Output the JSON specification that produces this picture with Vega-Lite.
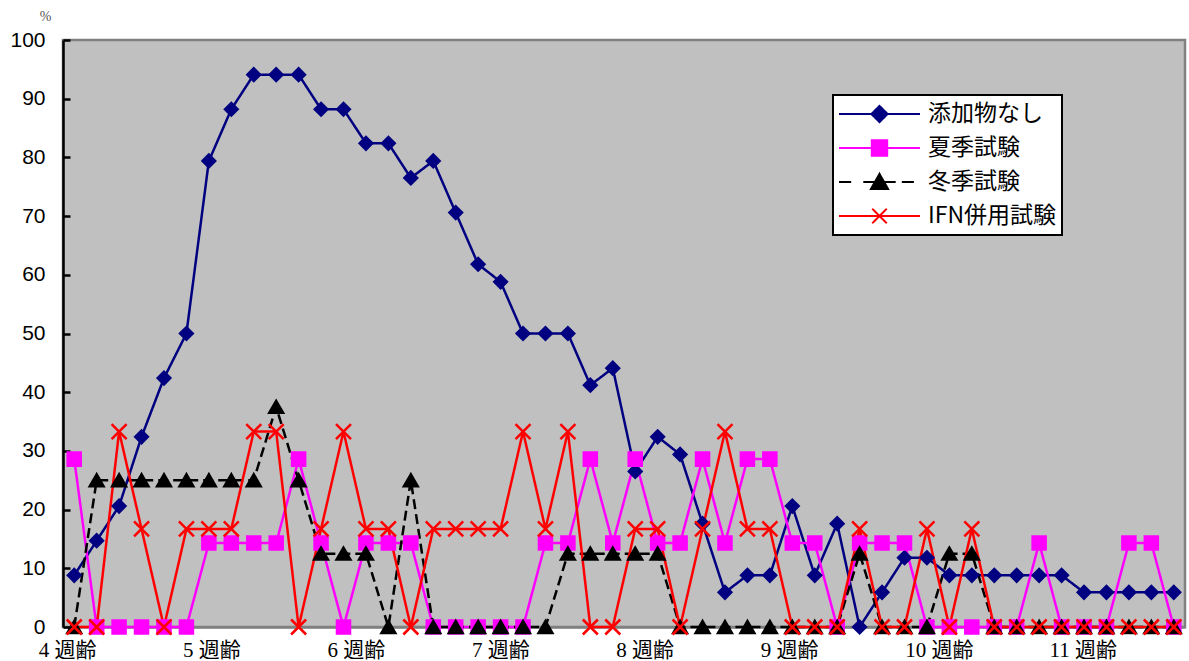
{
  "$schema": "https://vega.github.io/schema/vega-lite/v6.json",
  "width": 1122,
  "height": 587,
  "autosize": "none",
  "padding": {"left": 63, "top": 40, "right": 4, "bottom": 34},
  "background": "white",
  "config": {
    "view": {"fill": "#C0C0C0", "stroke": "#808080", "strokeWidth": 2.5}
  },
  "data": {
    "values": [
      {"n": 0, "添加物なし": 8.8, "夏季試験": 28.6, "冬季試験": 0, "IFN併用試験": 0},
      {"n": 1, "添加物なし": 14.7, "夏季試験": 0, "冬季試験": 25, "IFN併用試験": 0},
      {"n": 2, "添加物なし": 20.6, "夏季試験": 0, "冬季試験": 25, "IFN併用試験": 33.3},
      {"n": 3, "添加物なし": 32.4, "夏季試験": 0, "冬季試験": 25, "IFN併用試験": 16.7},
      {"n": 4, "添加物なし": 42.4, "夏季試験": 0, "冬季試験": 25, "IFN併用試験": 0},
      {"n": 5, "添加物なし": 50.0, "夏季試験": 0, "冬季試験": 25, "IFN併用試験": 16.7},
      {"n": 6, "添加物なし": 79.4, "夏季試験": 14.3, "冬季試験": 25, "IFN併用試験": 16.7},
      {"n": 7, "添加物なし": 88.2, "夏季試験": 14.3, "冬季試験": 25, "IFN併用試験": 16.7},
      {"n": 8, "添加物なし": 94.1, "夏季試験": 14.3, "冬季試験": 25, "IFN併用試験": 33.3},
      {"n": 9, "添加物なし": 94.1, "夏季試験": 14.3, "冬季試験": 37.5, "IFN併用試験": 33.3},
      {"n": 10, "添加物なし": 94.1, "夏季試験": 28.6, "冬季試験": 25, "IFN併用試験": 0},
      {"n": 11, "添加物なし": 88.2, "夏季試験": 14.3, "冬季試験": 12.5, "IFN併用試験": 16.7},
      {"n": 12, "添加物なし": 88.2, "夏季試験": 0, "冬季試験": 12.5, "IFN併用試験": 33.3},
      {"n": 13, "添加物なし": 82.4, "夏季試験": 14.3, "冬季試験": 12.5, "IFN併用試験": 16.7},
      {"n": 14, "添加物なし": 82.4, "夏季試験": 14.3, "冬季試験": 0, "IFN併用試験": 16.7},
      {"n": 15, "添加物なし": 76.5, "夏季試験": 14.3, "冬季試験": 25, "IFN併用試験": 0},
      {"n": 16, "添加物なし": 79.4, "夏季試験": 0, "冬季試験": 0, "IFN併用試験": 16.7},
      {"n": 17, "添加物なし": 70.6, "夏季試験": 0, "冬季試験": 0, "IFN併用試験": 16.7},
      {"n": 18, "添加物なし": 61.8, "夏季試験": 0, "冬季試験": 0, "IFN併用試験": 16.7},
      {"n": 19, "添加物なし": 58.8, "夏季試験": 0, "冬季試験": 0, "IFN併用試験": 16.7},
      {"n": 20, "添加物なし": 50.0, "夏季試験": 0, "冬季試験": 0, "IFN併用試験": 33.3},
      {"n": 21, "添加物なし": 50.0, "夏季試験": 14.3, "冬季試験": 0, "IFN併用試験": 16.7},
      {"n": 22, "添加物なし": 50.0, "夏季試験": 14.3, "冬季試験": 12.5, "IFN併用試験": 33.3},
      {"n": 23, "添加物なし": 41.2, "夏季試験": 28.6, "冬季試験": 12.5, "IFN併用試験": 0},
      {"n": 24, "添加物なし": 44.1, "夏季試験": 14.3, "冬季試験": 12.5, "IFN併用試験": 0},
      {"n": 25, "添加物なし": 26.5, "夏季試験": 28.6, "冬季試験": 12.5, "IFN併用試験": 16.7},
      {"n": 26, "添加物なし": 32.4, "夏季試験": 14.3, "冬季試験": 12.5, "IFN併用試験": 16.7},
      {"n": 27, "添加物なし": 29.4, "夏季試験": 14.3, "冬季試験": 0, "IFN併用試験": 0},
      {"n": 28, "添加物なし": 17.6, "夏季試験": 28.6, "冬季試験": 0, "IFN併用試験": 16.7},
      {"n": 29, "添加物なし": 5.9, "夏季試験": 14.3, "冬季試験": 0, "IFN併用試験": 33.3},
      {"n": 30, "添加物なし": 8.8, "夏季試験": 28.6, "冬季試験": 0, "IFN併用試験": 16.7},
      {"n": 31, "添加物なし": 8.8, "夏季試験": 28.6, "冬季試験": 0, "IFN併用試験": 16.7},
      {"n": 32, "添加物なし": 20.6, "夏季試験": 14.3, "冬季試験": 0, "IFN併用試験": 0},
      {"n": 33, "添加物なし": 8.8, "夏季試験": 14.3, "冬季試験": 0, "IFN併用試験": 0},
      {"n": 34, "添加物なし": 17.6, "夏季試験": 0, "冬季試験": 0, "IFN併用試験": 0},
      {"n": 35, "添加物なし": 0, "夏季試験": 14.3, "冬季試験": 12.5, "IFN併用試験": 16.7},
      {"n": 36, "添加物なし": 5.9, "夏季試験": 14.3, "冬季試験": 0, "IFN併用試験": 0},
      {"n": 37, "添加物なし": 11.8, "夏季試験": 14.3, "冬季試験": 0, "IFN併用試験": 0},
      {"n": 38, "添加物なし": 11.8, "夏季試験": 0, "冬季試験": 0, "IFN併用試験": 16.7},
      {"n": 39, "添加物なし": 8.8, "夏季試験": 0, "冬季試験": 12.5, "IFN併用試験": 0},
      {"n": 40, "添加物なし": 8.8, "夏季試験": 0, "冬季試験": 12.5, "IFN併用試験": 16.7},
      {"n": 41, "添加物なし": 8.8, "夏季試験": 0, "冬季試験": 0, "IFN併用試験": 0},
      {"n": 42, "添加物なし": 8.8, "夏季試験": 0, "冬季試験": 0, "IFN併用試験": 0},
      {"n": 43, "添加物なし": 8.8, "夏季試験": 14.3, "冬季試験": 0, "IFN併用試験": 0},
      {"n": 44, "添加物なし": 8.8, "夏季試験": 0, "冬季試験": 0, "IFN併用試験": 0},
      {"n": 45, "添加物なし": 5.9, "夏季試験": 0, "冬季試験": 0, "IFN併用試験": 0},
      {"n": 46, "添加物なし": 5.9, "夏季試験": 0, "冬季試験": 0, "IFN併用試験": 0},
      {"n": 47, "添加物なし": 5.9, "夏季試験": 14.3, "冬季試験": 0, "IFN併用試験": 0},
      {"n": 48, "添加物なし": 5.9, "夏季試験": 14.3, "冬季試験": 0, "IFN併用試験": 0},
      {"n": 49, "添加物なし": 5.9, "夏季試験": 0, "冬季試験": 0, "IFN併用試験": 0}
    ]
  },
  "transform": [
    {"fold": ["添加物なし", "夏季試験", "冬季試験", "IFN併用試験"], "as": ["series", "pct"]}
  ],
  "encoding": {
    "x": {
      "field": "n",
      "type": "quantitative",
      "scale": {"domain": [-0.5, 49.5], "nice": false, "zero": false},
      "axis": {
        "title": null,
        "values": [0, 6.435, 12.87, 19.305, 25.74, 32.175, 38.61, 45.045],
        "labelExpr": "(4 + round(datum.value / 6.435)) + ' 週齢'",
        "labelAlign": "left",
        "labelOffset": -36,
        "labelBaseline": "top",
        "labelPadding": 12,
        "labelFlush": false,
        "labelOverlap": false,
        "labelBound": false,
        "labelFont": "Liberation Serif, Noto Sans CJK JP",
        "labelFontSize": 21,
        "labelColor": "black",
        "ticks": false,
        "tickSize": 0,
        "grid": false,
        "domainColor": "#808080",
        "domainWidth": 2.5
      }
    },
    "y": {
      "field": "pct",
      "type": "quantitative",
      "scale": {"domain": [0, 100], "nice": false},
      "axis": {
        "title": "%",
        "titleAngle": 0,
        "titleX": -18,
        "titleY": -24,
        "titleAlign": "center",
        "titleBaseline": "middle",
        "titleFont": "Liberation Serif",
        "titleFontSize": 14,
        "titleFontWeight": "normal",
        "titleColor": "#555555",
        "values": [0, 10, 20, 30, 40, 50, 60, 70, 80, 90, 100],
        "labelFont": "Liberation Sans",
        "labelFontSize": 21,
        "labelColor": "black",
        "labelPadding": 25,
        "labelOverlap": false,
        "labelFlush": false,
        "grid": false,
        "domainColor": "black",
        "domainWidth": 2.5,
        "tickColor": "black",
        "tickWidth": 2.5,
        "tickSize": -7
      }
    },
    "color": {
      "field": "series",
      "type": "nominal",
      "scale": {
        "domain": ["添加物なし", "夏季試験", "冬季試験", "IFN併用試験"],
        "range": ["#000080", "#FF00FF", "#000000", "#FF0000"]
      },
      "legend": {
        "title": null,
        "orient": "none",
        "legendX": 770,
        "legendY": 55,
        "fillColor": "white",
        "strokeColor": "black",
        "padding": 5,
        "symbolSize": 6561,
        "symbolStrokeWidth": 2,
        "labelFont": "Noto Sans CJK JP",
        "labelFontSize": 23,
        "labelColor": "black",
        "labelOffset": 7,
        "labelLimit": 400,
        "clipHeight": 28,
        "rowPadding": 6,
        "encode": {
          "legend": {"update": {"strokeWidth": {"value": 2}}},
          "symbols": {
            "update": {
              "shape": {"signal": "datum.value === '添加物なし' ? 'M-1,0H1M0,-0.2L0.2,0L0,0.2L-0.2,0Z' : datum.value === '夏季試験' ? 'M-1,0H1M-0.19,-0.19H0.19V0.19H-0.19Z' : datum.value === '冬季試験' ? 'M-1,0H-0.7M-0.4,0H0.4M0.55,0H0.85M0,-0.2L0.21,0.17L-0.21,0.17Z' : 'M-1,0H1M-0.18,-0.18L0.18,0.18M-0.18,0.18L0.18,-0.18'"},
              "size": {"value": 6561},
              "fill": {"scale": "color", "field": "value"},
              "stroke": {"scale": "color", "field": "value"},
              "strokeWidth": {"value": 2},
              "strokeDash": {"value": [1, 0]},
              "opacity": {"value": 1}
            }
          }
        }
      }
    }
  },
  "layer": [
    {
      "mark": {"type": "line", "strokeWidth": 2.5},
      "encoding": {
        "strokeDash": {
          "condition": {"test": "datum.series === '冬季試験'", "value": [10, 5]},
          "value": [1, 0]
        },
        "strokeWidth": {
          "condition": {"test": "datum.series === '添加物なし'", "value": 2},
          "value": 2.5
        }
      }
    },
    {
      "transform": [{"filter": "datum.series === '添加物なし'"}],
      "mark": {"type": "point", "shape": "diamond", "filled": true, "size": 160, "stroke": "#000080", "strokeWidth": 2.5, "opacity": 1}
    },
    {
      "transform": [{"filter": "datum.series === '夏季試験'"}],
      "mark": {"type": "point", "shape": "square", "filled": true, "size": 170, "stroke": "#FF00FF", "strokeWidth": 2.5, "opacity": 1}
    },
    {
      "transform": [{"filter": "datum.series === '冬季試験'"}],
      "mark": {"type": "point", "shape": "triangle-up", "filled": true, "size": 190, "stroke": "#000000", "strokeWidth": 2.5, "opacity": 1}
    },
    {
      "transform": [{"filter": "datum.series === 'IFN併用試験'"}],
      "mark": {"type": "point", "shape": "M-1,-1L1,1M-1,1L1,-1", "filled": true, "size": 225, "stroke": "#FF0000", "strokeWidth": 2.5, "opacity": 1}
    }
  ]
}
